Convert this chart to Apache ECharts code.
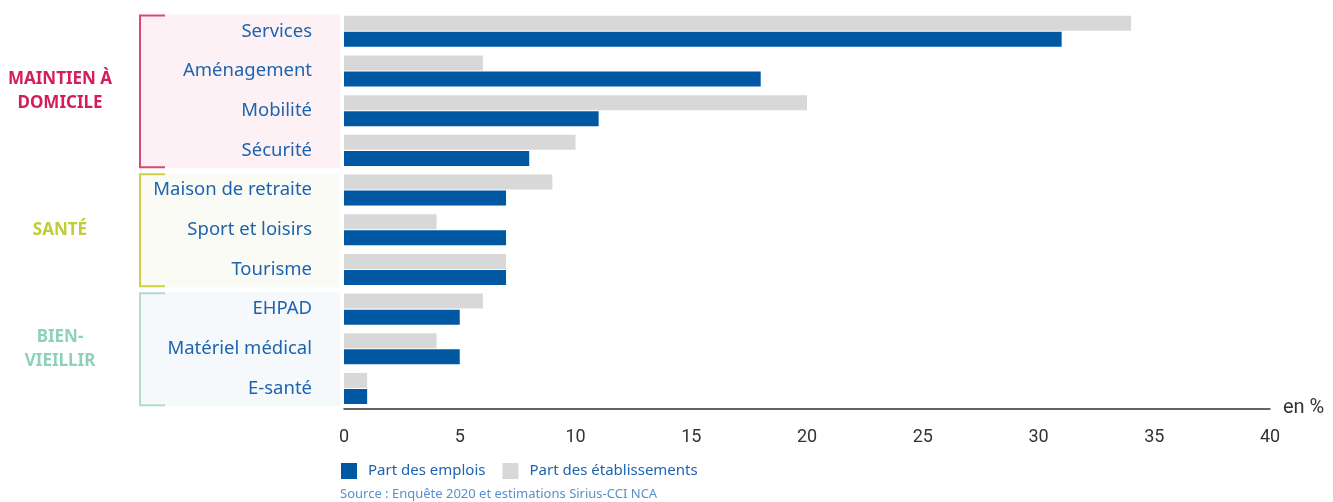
<!DOCTYPE html>
<html>
<head>
<meta charset="utf-8">
<script src="https://cdn.jsdelivr.net/npm/echarts@6/dist/echarts.min.js"></script>
<style>
html,body{margin:0;padding:0;background:#fff;}
#chart{width:1333px;height:502px;}
</style>
</head>
<body>
<div id="chart"></div>
<script>
const categories = ['Services','Aménagement','Mobilité','Sécurité','Maison de retraite','Sport et loisirs','Tourisme','EHPAD','Matériel médical','E-santé'];
const partEtablissements = [34, 6, 20, 10, 9, 4, 7, 6, 4, 1];
const partEmplois = [31, 18, 11, 8, 7, 7, 7, 5, 5, 1];
const xTicks = { min: 0, max: 40, interval: 5 };
const groups = [
  { name: 'MAINTIEN À\nDOMICILE', from: 0, to: 3, color: '#d41e5a', line: '#d94a72', fill: '#fdf1f5' },
  { name: 'SANTÉ', from: 4, to: 6, color: '#c1cc3a', line: '#cfd044', fill: '#fafbf4' },
  { name: 'BIEN-\nVIEILLIR', from: 7, to: 9, color: '#8ed0bd', line: '#b5d9cd', fill: '#f5f9fb' }
];
const sourceText = 'Source : Enquête 2020 et estimations Sirius-CCI NCA';

const FONT = '"Noto Sans", "Open Sans", sans-serif';
const chart = echarts.init(document.getElementById('chart'), null, { renderer: 'canvas' });

const option = {
  animation: false,
  backgroundColor: '#fff',
  grid: { left: 344, right: 63, top: 11.5, bottom: 93.7, containLabel: false },
  xAxis: {
    type: 'value',
    min: xTicks.min, max: xTicks.max, interval: xTicks.interval,
    axisLine: { show: true, lineStyle: { color: '#333', width: 1.5 } },
    axisTick: { show: false },
    splitLine: { show: false },
    axisLabel: { margin: 20, fontSize: 18, color: '#333', fontFamily: 'Roboto, sans-serif' },
    name: 'en %',
    nameLocation: 'end',
    nameGap: 13,
    nameTextStyle: { fontSize: 20, color: '#333', fontFamily: 'Roboto, sans-serif', verticalAlign: 'middle', padding: [0, 0, 2, 0] }
  },
  yAxis: {
    type: 'category',
    inverse: true,
    data: categories,
    axisLine: { show: false },
    axisTick: { show: false },
    axisLabel: { margin: 32, fontSize: 18.5, color: '#1d63b0', fontFamily: FONT, padding: [7, 0, 0, 0] }
  },
  legend: {
    left: 341, top: 463, padding: 0,
    itemWidth: 16, itemHeight: 16, itemGap: 17,
    icon: 'rect',
    data: ['Part des emplois', 'Part des établissements'],
    textStyle: { fontSize: 15, color: '#1d63b0', fontFamily: FONT, padding: [0, 0, 0, 6] }
  },
  series: [
    {
      name: 'Part des établissements', type: 'bar', data: partEtablissements,
      barWidth: 15, barGap: '7%',
      itemStyle: { color: '#d8d8d8' }
    },
    {
      name: 'Part des emplois', type: 'bar', data: partEmplois,
      barWidth: 15, barGap: '7%',
      itemStyle: { color: '#0058a3' }
    }
  ]
};
chart.setOption(option);

// decorative group boxes and brackets, computed from the category axis
const bandH = chart.convertToPixel({ yAxisIndex: 0 }, 1) - chart.convertToPixel({ yAxisIndex: 0 }, 0);
const graphics = [];
groups.forEach(g => {
  const top = chart.convertToPixel({ yAxisIndex: 0 }, g.from) - bandH / 2 + 3;
  const bottom = chart.convertToPixel({ yAxisIndex: 0 }, g.to) + bandH / 2 - 2;
  const x0 = 139, x1 = 340;
  graphics.push({ type: 'rect', z: -10, shape: { x: x0, y: top, width: x1 - x0, height: bottom - top }, style: { fill: g.fill } });
  graphics.push({ type: 'polyline', z: -5, shape: { points: [[165, top + 1], [140, top + 1], [140, bottom - 1], [165, bottom - 1]] }, style: { stroke: g.line, lineWidth: 2, fill: null } });
  graphics.push({
    type: 'text',
    x: 60, y: (top + bottom) / 2,
    style: {
      text: g.name, x: 0, y: 0, align: 'center', verticalAlign: 'middle',
      fill: g.color, font: 'bold 17px ' + FONT, lineHeight: 24
    }
  });
});
graphics.push({
  type: 'text', x: 340, y: 488,
  style: { text: sourceText, fill: '#5b8fcc', font: '13px ' + FONT }
});
chart.setOption({ graphic: graphics });
</script>
</body>
</html>
